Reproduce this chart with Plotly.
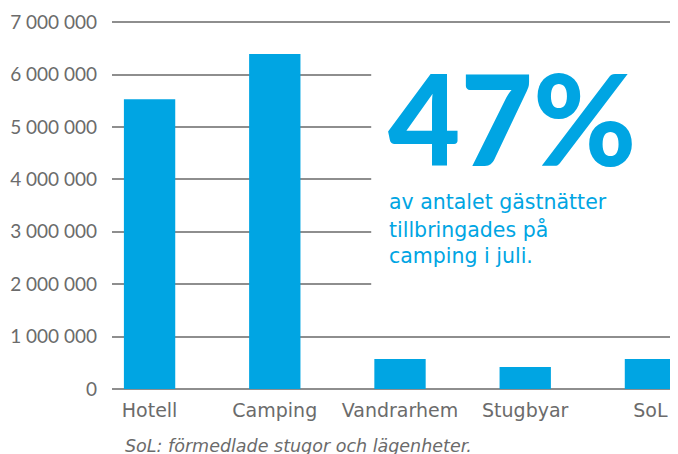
import plotly.graph_objects as go

# ── Data ──────────────────────────────────────────────────────────────────────
categories = ["Hotell", "Camping", "Vandrarhem", "Stugbyar", "SoL"]
guest_nights = [5530000, 6390000, 570000, 420000, 570000]

y_tickvals = [0, 1000000, 2000000, 3000000, 4000000, 5000000, 6000000, 7000000]
y_ticktext = ["0", "1 000 000", "2 000 000", "3 000 000", "4 000 000",
              "5 000 000", "6 000 000", "7 000 000"]

headline = "47%"
headline_lines = ["av antalet gästnätter", "tillbringades på", "camping i juli."]
footnote = "SoL: förmedlade stugor och lägenheter."

# ── Style ─────────────────────────────────────────────────────────────────────
BLUE = "#00A5E3"
GREY_TEXT = "#6B6B6B"
GRID = "#8E8E8E"
NUM_FONT = "Lato"
TXT_FONT = "DejaVu Sans"

fig = go.Figure(go.Bar(
    x=list(range(len(categories))),
    y=guest_nights,
    marker_color=BLUE,
    marker_line_width=0,
    width=0.41,
))

# white panel that hides the grid behind the callout
fig.add_shape(
    type="rect", xref="x", yref="y",
    x0=1.77, x1=4.5, y0=1.5e6, y1=6.6e6,
    fillcolor="white", line_width=0, layer="above",
)

fig.add_annotation(
    text=headline, xref="paper", yref="paper",
    x=0.4834, y=0.944, xanchor="left", yanchor="top",
    showarrow=False,
    font=dict(family=NUM_FONT, size=125, color=BLUE, weight=900),
)
for line, ypos in zip(headline_lines, [0.5068, 0.4309, 0.3604]):
    fig.add_annotation(
        text=line, xref="paper", yref="paper",
        x=0.486, y=ypos, xanchor="left", yanchor="middle",
        showarrow=False,
        font=dict(family=TXT_FONT, size=20.5, color=BLUE),
    )
fig.add_annotation(
    text=f"<i>{footnote}</i>", xref="paper", yref="paper",
    x=0.02, y=-0.154, xanchor="left", yanchor="middle",
    showarrow=False,
    font=dict(family=TXT_FONT, size=17.5, color=GREY_TEXT),
)

fig.update_layout(
    width=678, height=454,
    margin=dict(l=104, r=8, t=12, b=73),
    paper_bgcolor="white", plot_bgcolor="white",
    showlegend=False,
    font=dict(family=TXT_FONT, size=18, color=GREY_TEXT),
)
fig.update_xaxes(
    range=[-0.3, 4.22], automargin=False,
    tickvals=list(range(len(categories))), ticktext=categories,
    tickfont=dict(family=TXT_FONT, size=19, color=GREY_TEXT),
    showgrid=False, zeroline=False, showline=False,
    ticks="", ticklabelstandoff=8,
)
fig.update_yaxes(
    range=[0, 7.04e6], automargin=False,
    tickvals=y_tickvals, ticktext=y_ticktext,
    tickfont=dict(family=NUM_FONT, size=19, color=GREY_TEXT),
    showgrid=True, gridcolor=GRID, gridwidth=1.5,
    zeroline=True, zerolinecolor=GRID, zerolinewidth=1.5,
    ticks="", ticklabelstandoff=14,
)

fig.write_html("out.html")
